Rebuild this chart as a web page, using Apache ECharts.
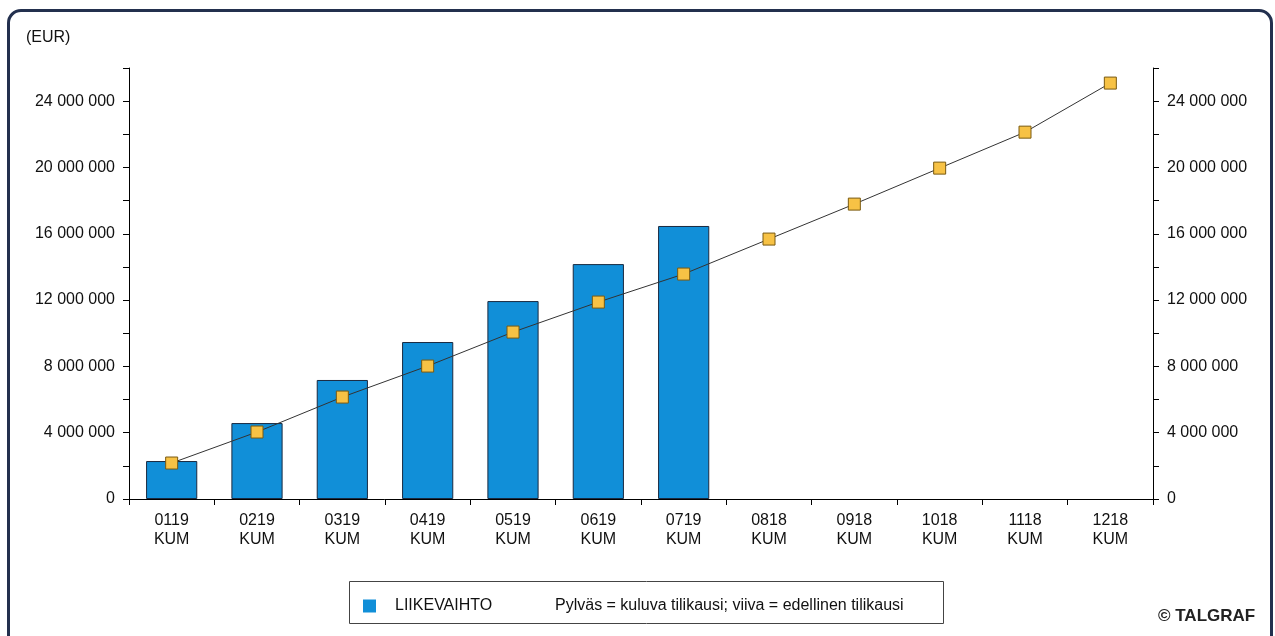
<!DOCTYPE html>
<html>
<head>
<meta charset="utf-8">
<script src="https://cdn.jsdelivr.net/npm/echarts@6/dist/echarts.min.js"></script>
<style>
html,body{margin:0;padding:0;background:#fff;}
#chart{position:absolute;left:0;top:0;width:1275px;height:636px;}
#frame{position:absolute;left:7px;top:9px;width:1260px;height:660px;border:3px solid #23304e;border-radius:14px;pointer-events:none;}
</style>
</head>
<body>
<div id="chart"></div>
<div id="frame"></div>
<script>
const categories = ['0119\nKUM','0219\nKUM','0319\nKUM','0419\nKUM','0519\nKUM','0619\nKUM','0719\nKUM','0818\nKUM','0918\nKUM','1018\nKUM','1118\nKUM','1218\nKUM'];
const currentYear = [2290000, 4580000, 7180000, 9470000, 11940000, 14170000, 16470000, null, null, null, null, null];
const previousYear = [2170000, 4040000, 6150000, 8020000, 10070000, 11880000, 13570000, 15680000, 17790000, 19960000, 22130000, 25090000];
const unitLabel = '(EUR)';
const legendNote = 'Pylväs = kuluva tilikausi; viiva = edellinen tilikausi';
const credit = '© TALGRAF';

function fmt(v){
  if (v % 4000000 !== 0) return '';
  return String(v).replace(/\B(?=(\d{3})+(?!\d))/g, ' ');
}
const font = 'Liberation Sans, Arial, sans-serif';
const chart = echarts.init(document.getElementById('chart'));
const yAxisBase = {
  type: 'value', min: 0, max: 26000000, interval: 2000000,
  splitLine: {show: false},
  axisLine: {show: true, lineStyle: {color: '#000', width: 1}},
  axisTick: {show: true, length: 6, lineStyle: {color: '#000'}},
  axisLabel: {formatter: fmt, color: '#111', fontSize: 16, fontFamily: font, margin: 14}
};
chart.setOption({
  animation: false,
  textStyle: {fontFamily: font},
  grid: {left: 129, right: 122, top: 68, bottom: 137},
  legend: {
    data: ['LIIKEVAIHTO'], left: 363, top: 598, padding: 0, itemWidth: 13, itemHeight: 13,
    icon: 'rect', itemStyle: {borderWidth: 0},
    textStyle: {fontSize: 16, color: '#111', fontFamily: font, padding: [0, 0, 0, 14]}
  },
  xAxis: {
    type: 'category', data: categories,
    axisLine: {lineStyle: {color: '#000', width: 1}},
    axisTick: {show: true, length: 6, lineStyle: {color: '#000'}},
    axisLabel: {color: '#111', fontSize: 16, fontFamily: font, lineHeight: 19, margin: 12}
  },
  yAxis: [
    Object.assign({}, yAxisBase, {position: 'left'}),
    Object.assign({}, yAxisBase, {position: 'right'})
  ],
  series: [
    {
      name: 'LIIKEVAIHTO', type: 'bar', data: currentYear, barCategoryGap: '40%',
      itemStyle: {color: '#118fd8', borderColor: '#1a2a40', borderWidth: 1}
    },
    {
      name: 'edellinen', type: 'line', data: previousYear, symbol: 'rect', symbolSize: 12,
      lineStyle: {color: '#333', width: 1},
      itemStyle: {color: '#f7c245', borderColor: '#7a5a10', borderWidth: 1}
    }
  ],
  graphic: [
    {type: 'text', left: 26, top: 30, style: {text: unitLabel, fontSize: 16, fill: '#111', fontFamily: font}},
    {type: 'rect', left: 347, top: 579, shape: {width: 594, height: 42}, style: {fill: 'none', stroke: '#444', lineWidth: 1}},
    {type: 'text', left: 555, top: 598, style: {text: legendNote, fontSize: 16, fill: '#111', fontFamily: font}},
    {type: 'text', left: 1158, top: 608, style: {text: credit, fontSize: 17, fill: '#222', fontFamily: font, fontWeight: 'bold'}}
  ]
});
</script>
</body>
</html>
